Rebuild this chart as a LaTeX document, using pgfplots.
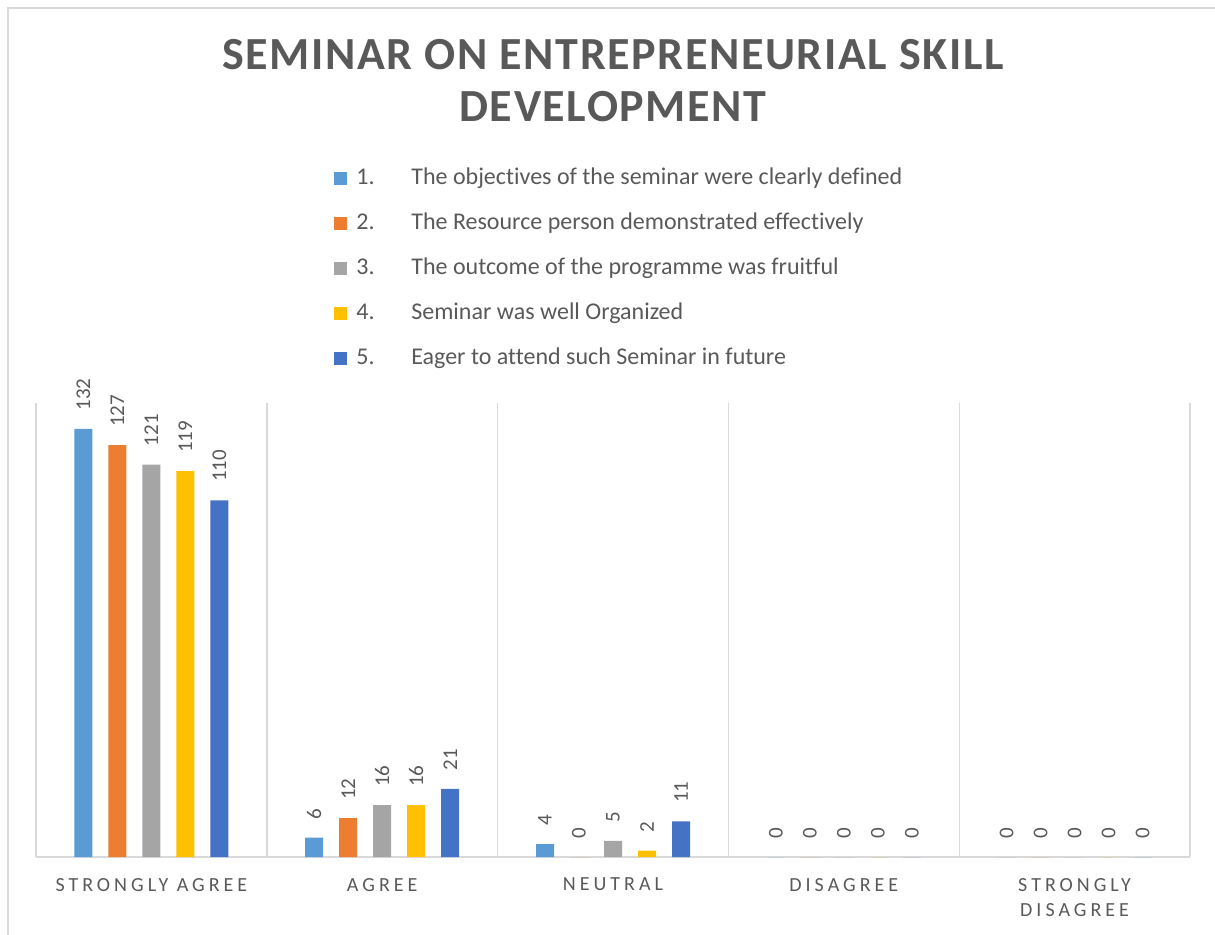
\documentclass[border=0pt]{standalone}
\usepackage{fontspec}
\setmainfont{Carlito}[Ligatures={NoCommon}]
\usepackage{pgfplots}
\pgfplotsset{compat=1.18}
\definecolor{c1}{HTML}{5B9BD5}
\definecolor{c2}{HTML}{ED7D31}
\definecolor{c3}{HTML}{A5A5A5}
\definecolor{c4}{HTML}{FFC000}
\definecolor{c5}{HTML}{4472C4}
\definecolor{txt}{HTML}{595959}
\definecolor{gridc}{HTML}{D9D9D9}
\pgfplotsset{/pgfplots/ybar legend/.style={legend image code/.code={\fill[##1,draw=none] (0pt,-3.25pt) rectangle (6.5pt,3.25pt);}}}
\begin{document}
\begin{tikzpicture}
\begin{axis}[
  name=ax, at={(0,0)}, anchor=south west,
  scale only axis, width=577pt, height=227pt,
  ybar=8pt, bar width=9pt,
  xmin=-0.5, xmax=4.5, ymin=0, ymax=140,
  xtick={0,1,2,3,4},
  xticklabels={STRONGLY AGREE, AGREE, NEUTRAL, DISAGREE, {STRONGLY\\DISAGREE}},
  minor xtick={-0.5,0.5,1.5,2.5,3.5,4.5},
  xminorgrids, minor grid style={gridc, line width=0.7pt},
  major tick length=0pt, minor tick length=0pt,
  axis x line*=bottom, axis y line=none,
  x axis line style={gridc, line width=0.9pt, -},
  ytick=\empty,
  /pgf/number format/assume math mode=true,
  xticklabel style={font=\fontsize{10}{12.5}\selectfont\addfontfeatures{LetterSpace=20}, text=txt, align=center, anchor=north, yshift=-7pt},
  nodes near coords,
  nodes near coords style={rotate=90, anchor=west, font=\fontsize{10.5}{12}\selectfont, text=txt, inner xsep=9pt, inner ysep=0pt},
  legend cell align=left,
  legend style={at={(0.2582,1.522)}, anchor=north west, draw=none, fill=none,
    font=\fontsize{12}{14}\selectfont, text=txt, inner sep=0pt, row sep=10.5pt,
    nodes={text height=9pt, text depth=3pt, inner ysep=0pt, inner xsep=4.5pt}},
]
\addplot[fill=c1, draw=none] coordinates {(0,132) (1,6) (2,4) (3,0) (4,0)};
\addlegendentry{\makebox[27.5pt][l]{1.}The objectives of the seminar were clearly defined}
\addplot[fill=c2, draw=none] coordinates {(0,127) (1,12) (2,0) (3,0) (4,0)};
\addlegendentry{\makebox[27.5pt][l]{2.}The Resource person demonstrated effectively}
\addplot[fill=c3, draw=none] coordinates {(0,121) (1,16) (2,5) (3,0) (4,0)};
\addlegendentry{\makebox[27.5pt][l]{3.}The outcome of the programme was fruitful}
\addplot[fill=c4, draw=none] coordinates {(0,119) (1,16) (2,2) (3,0) (4,0)};
\addlegendentry{\makebox[27.5pt][l]{4.}Seminar was well Organized}
\addplot[fill=c5, draw=none] coordinates {(0,110) (1,21) (2,11) (3,0) (4,0)};
\addlegendentry{\makebox[27.5pt][l]{5.}Eager to attend such Seminar in future}
\end{axis}
\path[use as bounding box] ([xshift=-18pt,yshift=-38.5pt]ax.south west) rectangle ++(607.5pt,467pt);
\node[align=center, text=txt, font=\fontsize{23}{26}\selectfont\bfseries\addfontfeatures{LetterSpace=3.5}] at ([yshift=161pt]ax.north) {SEMINAR ON ENTREPRENEURIAL SKILL\\DEVELOPMENT};
\draw[gridc, line width=0.6pt] ([xshift=-14pt,yshift=-45pt]ax.south west) -- ([xshift=-14pt,yshift=197.5pt]ax.north west) -- ([xshift=650pt,yshift=197.5pt]ax.north west);
\end{tikzpicture}
\end{document}
